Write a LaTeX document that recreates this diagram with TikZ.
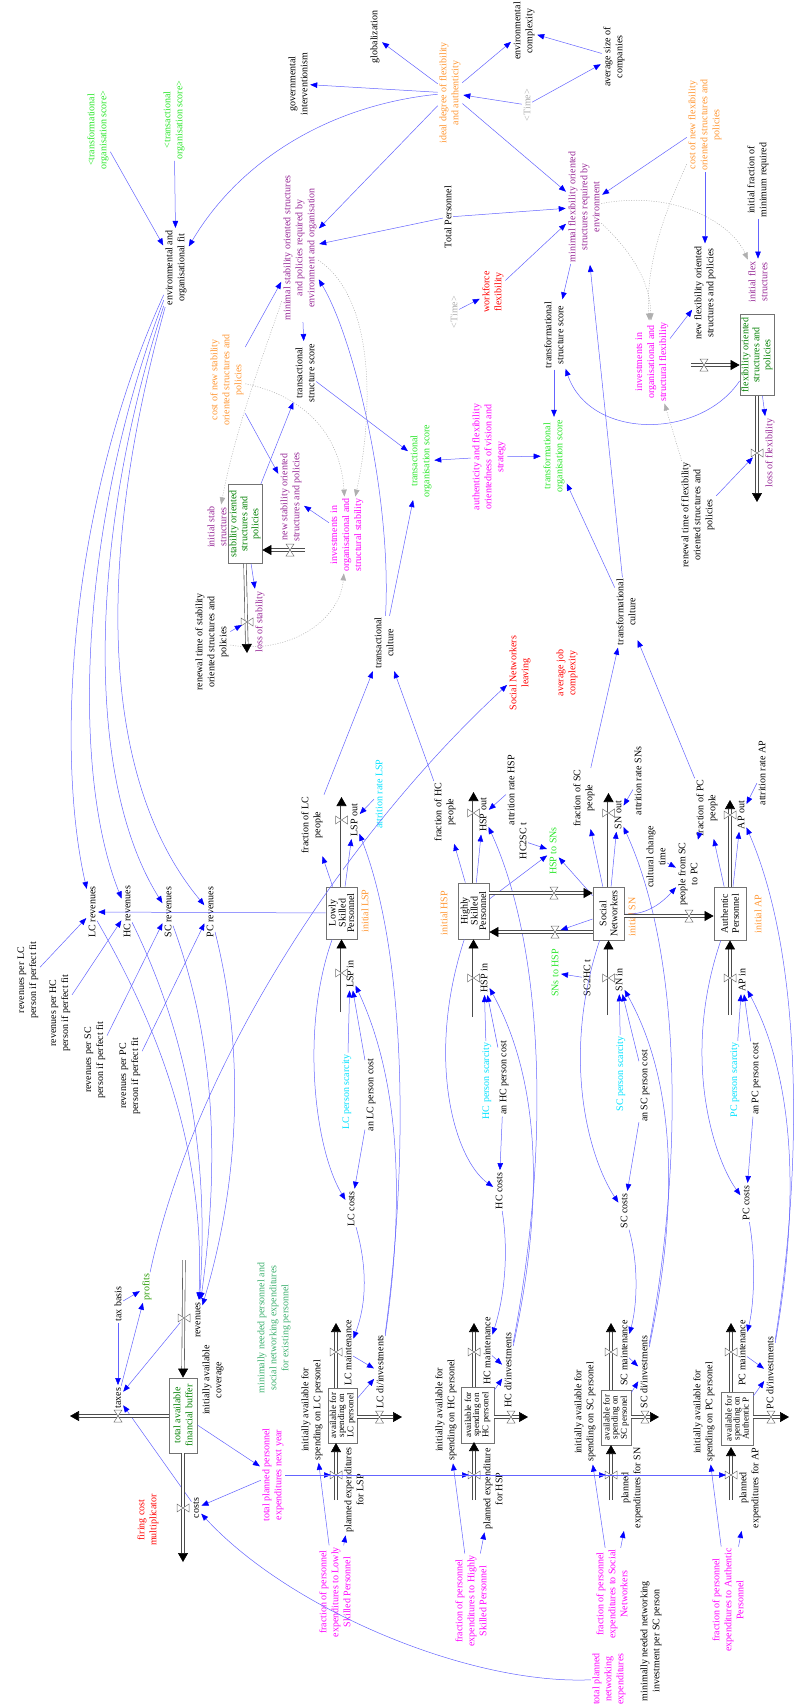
\documentclass[tikz,border=0pt]{standalone}
\usepackage{fontspec}
\setmainfont{Liberation Serif}
\usetikzlibrary{arrows.meta,calc}
\definecolor{linkblue}{RGB}{100,100,255}
\definecolor{tipblue}{RGB}{0,0,255}
\definecolor{vorange}{RGB}{255,150,50}
\definecolor{vpurple}{RGB}{150,40,150}
\definecolor{vmagenta}{RGB}{255,0,255}
\definecolor{vred}{RGB}{255,0,0}
\definecolor{vcyan}{RGB}{0,225,255}
\definecolor{vlime}{RGB}{40,230,40}
\definecolor{vgreen}{RGB}{0,128,0}
\definecolor{vsea}{RGB}{60,175,110}
\definecolor{vgray}{RGB}{175,175,175}
\tikzset{
  lbl/.style={rotate=90, align=center, inner sep=1.5pt, font=\fontsize{10}{12}\selectfont},
  stockbox/.style 2 args={rotate=90, align=center, draw=black!55, fill=white, line width=0.8pt,
    inner sep=0pt, minimum width=#1, minimum height=#2},
  link/.style={draw=linkblue, line width=0.5pt, shorten >=1pt,
    -{Triangle[length=7pt,width=5.5pt,color=tipblue]}},
  shadowlink/.style={draw=vgray, dash pattern=on 1pt off 1.5pt, line width=0.5pt,
    -{Triangle[length=7pt,width=5.5pt,color=vgray]}},
  pipe/.style={draw=black!70, double=white, double distance=2pt, line width=0.6pt,
    -{Triangle[length=9pt,width=10pt,color=black]}},
  valveh/.pic={\draw[black!55, fill=white, line width=0.5pt] (-4,-6) -- (4,6) -- (-4,6) -- (4,-6) -- cycle;},
  valvev/.pic={\draw[black!55, fill=white, line width=0.5pt] (-6,-4) -- (6,4) -- (6,-4) -- (-6,4) -- cycle;},
}
\newcommand{\flowpipe}[5]{%
  % from, to, valve name, valve position, valve orientation (h or v).
  \coordinate (#3) at #4;
  \draw[pipe] #1 -- #2;
  \pic at (#3) {valve#5};
}

\begin{document}
\begin{tikzpicture}[x=1pt,y=-1pt]
  \useasboundingbox (0,0) rectangle (803,1708);

  % environment
  \node[lbl] (glob) at (375,37) {globalization};
  \node[lbl] (govint) at (298,84) {governmental\\interventionism};
  \node[lbl,text=vorange] (ideal) at (450,93) {ideal degree of flexibility\\and authenticity};
  \node[lbl] (envcomp) at (524,31) {environmental\\complexity};
  \node[lbl] (avgsize) at (614,57) {average size of\\companies};
  \node[lbl,text=vgray] (time1) at (527,105) {<Time>};
  \node[lbl,text=vlime] (transfref) at (98,130) {<transformational\\organisation score>};
  \node[lbl,text=vlime] (transref) at (174,120) {<transactional\\organisation score>};
  \node[lbl] (envfit) at (176,268) {environmental and\\organisational fit};
  \node[lbl,text=vpurple] (minstab) at (300,248) {minimal stability oriented structures\\and policies required by\\environment and organisation};
  \node[lbl] (totpers) at (448,217) {Total Personnel};
  \node[lbl,text=vpurple] (minflex) at (584,207) {minimal flexibility oriented\\structures required by\\environment};
  \node[lbl,text=vorange] (costflex) at (705,125) {cost of new flexibility\\oriented structures and\\policies};
  \node[lbl] (initfrac) at (758,180) {initial fraction of\\minimum required};
  \node[lbl,text=vpurple] (initflex) at (758,282) {initial flex\\structures};
  \node[lbl,text=vred] (workflex) at (493,292) {workforce\\flexibility};
  \node[lbl,text=vgray] (time2) at (454,312) {<Time>};

  % structures
  \node[lbl,text=vorange] (costst) at (227,380) {cost of new stability\\oriented structures and\\policies};
  \node[lbl] (tstruct) at (305,373) {transactional\\structure score};
  \node[lbl] (tfstruct) at (554,335) {transformational\\structure score};
  \node[lbl,text=vlime] (tforg) at (554,456) {transformational\\organisation score};
  \node[lbl,text=vlime] (torg) at (421,461) {transactional\\organisation score};
  \node[lbl,text=vmagenta] (auth) at (489,457) {authenticity and flexibility\\orientedness of vision and\\strategy};
  \node[lbl,text=vmagenta] (invflex) at (652,362) {investments in\\organisational and\\structural flexibility};
  \node[lbl] (newflex) at (705,293) {new flexibility oriented\\structures and policies};
  \node[stockbox={81pt}{34pt},text=vgreen,font=\fontsize{10}{11}\selectfont] (flexstock) at (757,355) {flexibility oriented\\structures and\\policies};
  \node[lbl,text=vpurple] (lossflex) at (770,453) {loss of flexibility};
  \node[lbl] (renflex) at (698,515) {renewal time of flexibility\\oriented structures and\\policies};
  \node[stockbox={79pt}{34pt},text=vgreen,font=\fontsize{10}{11}\selectfont] (stabstock) at (245,524) {stability oriented\\structures and\\policies};
  \node[lbl,text=vpurple] (initstab) at (217,527) {initial stab\\structures};
  \node[lbl,text=vpurple] (newstab) at (291,497) {new stability oriented\\structures and policies};
  \node[lbl,text=vmagenta] (invstab) at (347,535) {investments in\\organisational and\\structural stability};
  \node[lbl,text=vpurple] (lossstab) at (260,622) {loss of stability};
  \node[lbl] (renstab) at (212,642) {renewal time of stability\\oriented structures and\\policies};
  \node[lbl] (tcult) at (384,643) {transactional\\culture};
  \node[lbl] (tfcult) at (626,612) {transformational\\culture};
  \node[lbl,text=vred] (snleave) at (520,673) {Social Networkers\\leaving};
  \node[lbl,text=vred] (avgjob) at (567,673) {average job\\complexity};

  % personnel
  \node[lbl] (fraclc) at (312,825) {fraction of LC\\people};
  \node[lbl] (lspoutl) at (354,820) {LSP out};
  \node[lbl,text=vcyan] (attlsp) at (379,794) {attrition rate LSP};
  \node[lbl] (frachc) at (445,812) {fraction of HC\\people};
  \node[lbl] (hspoutl) at (483,815) {HSP out};
  \node[lbl] (atthsp) at (511,790) {attrition rate HSP};
  \node[lbl] (hc2sc) at (523,841) {HC2SC t};
  \node[lbl,text=vlime] (hsp2snl) at (553,851) {HSP to SNs};
  \node[lbl] (fracsc) at (584,798) {fraction of SC\\people};
  \node[lbl] (snoutl) at (618,815) {SN out};
  \node[lbl] (attsn) at (638,781) {attrition rate SNs};
  \node[lbl] (cultch) at (656,857) {cultural change\\time};
  \node[lbl] (fracpc) at (707,808) {fraction of PC\\people};
  \node[lbl] (apoutl) at (741,815) {AP out};
  \node[lbl] (attap) at (762,773) {attrition rate AP};
  \node[lbl] (sc2pc) at (688,874) {people from SC\\to PC};
  \node[stockbox={52pt}{31pt},font=\fontsize{10}{8.5}\selectfont] (lsp) at (341.5,913) {Lowly\\Skilled\\Personnel};
  \node[stockbox={56pt}{31pt},font=\fontsize{10}{8.5}\selectfont] (hsp) at (473.5,911) {Highly\\Skilled\\Personnel};
  \node[stockbox={53pt}{31pt},font=\fontsize{10}{11}\selectfont] (sn) at (608.5,913.5) {Social\\Networkers};
  \node[stockbox={53pt}{32pt},font=\fontsize{10}{11}\selectfont] (ap) at (730,913.5) {Authentic\\Personnel};
  \node[lbl,text=vorange] (initlsp) at (365,911) {initial LSP};
  \node[lbl,text=vorange] (inithsp) at (444,913) {initial HSP};
  \node[lbl,text=vorange] (initsn) at (632,917) {initial SN};
  \node[lbl,text=vorange] (initap) at (758,914) {initial AP};
  \node[lbl,text=vlime] (sn2hspl) at (555,973) {SNs to HSP};
  \node[lbl] (sc2hc) at (587,978) {SC2HC t};
  \node[lbl] (lspinl) at (350,974) {LSP in};
  \node[lbl] (hspinl) at (484,978) {HSP in};
  \node[lbl] (sninl) at (619,980) {SN in};
  \node[lbl] (apinl) at (742,980) {AP in};
  \node[lbl,text=vcyan] (lcscar) at (347,1092) {LC person scarcity};
  \node[lbl] (lccost) at (371,1095) {an LC person cost};
  \node[lbl,text=vcyan] (hcscar) at (487,1081) {HC person scarcity};
  \node[lbl] (hccost) at (504,1078) {an HC person cost};
  \node[lbl,text=vcyan] (scscar) at (621,1074) {SC person scarcity};
  \node[lbl] (sccost) at (645,1086) {an SC person cost};
  \node[lbl,text=vcyan] (pcscar) at (735,1080) {PC person scarcity};
  \node[lbl] (pccost) at (756,1079) {an PC person cost};
  \node[lbl] (lccosts) at (351,1209) {LC costs};
  \node[lbl] (hccosts) at (499,1191) {HC costs};
  \node[lbl] (sccosts) at (624,1211) {SC costs};
  \node[lbl] (pccosts) at (746,1203) {PC costs};

  % revenues
  \node[lbl] (lcrev) at (92,912) {LC revenues};
  \node[lbl] (hcrev) at (127,912) {HC revenues};
  \node[lbl] (screv) at (168,912) {SC revenues};
  \node[lbl] (pcrev) at (210,912) {PC revenues};
  \node[lbl] (rplc) at (28,980) {revenues per LC\\person if perfect fit};
  \node[lbl] (rphc) at (60,1013) {revenues per HC\\person if perfect fit};
  \node[lbl] (rpsc) at (95,1060) {revenues per SC\\person if perfect fit};
  \node[lbl] (rppc) at (130,1076) {revenues per PC\\person if perfect fit};

  % finance
  \node[lbl] (taxbasis) at (118,1304) {tax basis};
  \node[lbl,text=vgreen!80!lime] (profits) at (147,1287) {profits};
  \node[lbl] (taxes) at (118,1398) {taxes};
  \node[lbl] (revflowl) at (198,1320) {revenues};
  \node[stockbox={75pt}{28pt},text=vgreen,font=\fontsize{10}{12}\selectfont] (buffer) at (183,1415.5) {total available\\financial buffer};
  \node[lbl] (initcov) at (213,1380) {initially available\\coverage};
  \node[lbl,text=vsea] (minneed) at (274,1328) {minimally needed personnel and\\social networking expenditures\\for existing personnel};
  \node[lbl] (costsl) at (196,1508) {costs};
  \node[lbl,text=vred] (firing) at (148,1520) {firing cost\\multiplicator};
  \node[lbl,text=vmagenta] (totplan) at (273,1475) {total planned personnel\\expenditures next year};

  % spending
  \node[lbl] (lcmaint) at (348,1353) {LC maintenance};
  \node[lbl] (lcdi) at (380,1372) {LC di/investments};
  \node[stockbox={55pt}{29pt},font=\fontsize{9}{8}\selectfont] (lcspend) at (342.5,1415.5) {available for\\spending on\\LC personel};
  \node[lbl] (lcinit) at (312,1410) {initially available for\\spending on LC personel};
  \node[lbl] (lcplan) at (354,1490) {planned expenditures\\for LSP};
  \node[lbl,text=vmagenta] (fraclsp) at (335,1592) {fraction of personnel\\expenditures to Lowly\\Skilled Personnel};
  \node[lbl] (hcmaint) at (487,1351) {HC maintenance};
  \node[lbl] (hcdi) at (508,1370) {HC di/investments};
  \node[stockbox={56pt}{33pt},font=\fontsize{9}{8}\selectfont] (hcspend) at (477.5,1415) {available for\\spending on\\HC personel};
  \node[lbl] (hcinit) at (446,1410) {initially available for\\spending on HC personel};
  \node[lbl] (hcplan) at (493,1489) {planned expenditure\\for HSP};
  \node[lbl,text=vmagenta] (frachsp) at (471,1601) {fraction of personnel\\expenditures to Highly\\Skilled Personnel};
  \node[lbl] (scmaint) at (624,1353) {SC maintenance};
  \node[lbl] (scdi) at (644,1372) {SC di/investments};
  \node[stockbox={55pt}{30pt},font=\fontsize{9}{8}\selectfont] (scspend) at (616,1417.5) {available for\\spending on\\SC personel};
  \node[lbl] (scinit) at (585,1412) {initially available for\\spending on SC personel};
  \node[lbl] (scplan) at (632,1488) {planned\\expenditures for SN};
  \node[lbl,text=vmagenta] (fracsn) at (612,1594) {fraction of personnel\\expenditures to Social\\Networkers};
  \node[lbl] (minnet) at (651,1641) {minimally needed networking\\investment per SC person};
  \node[lbl,text=vmagenta] (totnet) at (609,1679) {total planned\\networking\\expenditures};
  \node[lbl] (pcmaint) at (742,1353) {PC maintenance};
  \node[lbl] (pcdi) at (770,1373) {PC di/investments};
  \node[stockbox={53pt}{32pt},font=\fontsize{9}{8}\selectfont] (pcspend) at (737,1418.5) {available for\\spending on\\Authentic P};
  \node[lbl] (pcinit) at (704,1412) {initially available for\\spending on PC personel};
  \node[lbl] (pcplan) at (750,1488) {planned\\expenditures for AP};
  \node[lbl,text=vmagenta] (fracap) at (728,1600) {fraction of personnel\\expenditures to Authentic\\Personnel};

  % links: environment and structures
  \foreach \a/\b in {ideal/glob, ideal/govint, ideal/envcomp, avgsize/envcomp, time1/ideal,
    time1/avgsize, ideal/minstab, ideal/minflex, totpers/minstab, totpers/minflex,
    workflex/minflex, time2/workflex, costflex/minflex, costflex/newflex, initfrac/initflex,
    minflex/tfstruct, tfcult/minflex, invflex/newflex, flexstock/lossflex, tfstruct/tforg,
    auth/torg, auth/tforg, tfcult/tforg, tstruct/torg, tcult/torg, minstab/tstruct,
    costst/minstab, costst/newstab, stabstock/tstruct, invstab/newstab, stabstock/lossstab,
    transfref/envfit, transref/envfit}
    \draw[link] (\a) -- (\b);
  \draw[link] (ideal) .. controls (330,105) and (240,160) .. (envfit);
  \draw[link] (flexstock) .. controls (700,440) and (590,440) .. (tfstruct);
  \draw[link] (tcult) .. controls (392,500) and (355,340) .. (minstab);
  \draw[shadowlink] (minflex) .. controls (670,190) and (730,220) .. (initflex);
  \draw[shadowlink] (minflex) .. controls (630,250) and (650,280) .. (invflex);
  \draw[shadowlink] (costflex) .. controls (670,200) and (645,260) .. (invflex);
  \draw[shadowlink] (renflex) -- (invflex);
  \draw[shadowlink] (costst) .. controls (300,395) and (340,430) .. (invstab);
  \draw[shadowlink] (minstab) .. controls (378,300) and (372,420) .. (invstab);
  \draw[shadowlink] (minstab) .. controls (265,350) and (235,430) .. (initstab);
  \draw[shadowlink] (renstab) .. controls (290,655) and (340,620) .. (invstab);

  % links: revenues
  \foreach \r/\ca/\cb in {lcrev/{70,500}/{55,750}, hcrev/{80,520}/{70,770},
    screv/{88,540}/{85,780}, pcrev/{95,560}/{100,780}}
    \draw[link] (envfit) .. controls (\ca) and (\cb) .. (\r);
  \foreach \r/\ca/\cb in {lcrev/{160,1030}/{205,1150}, hcrev/{185,1030}/{210,1150},
    screv/{215,1040}/{220,1160}, pcrev/{245,1050}/{240,1180}}
    \draw[link] (\r) .. controls (\ca) and (\cb) .. (revflowl);
  \foreach \a/\b in {rplc/lcrev, rphc/hcrev, rpsc/screv, rppc/pcrev, lsp/lcrev}
    \draw[link] (\a) -- (\b);

  % links: personnel
  \foreach \a/\b in {lsp/fraclc, hsp/frachc, sn/fracsc, ap/fracpc,
    fraclc/tcult, frachc/tcult, fracsc/tfcult, fracpc/tfcult,
    attlsp/lspoutl, atthsp/hspoutl, attsn/snoutl, attap/apoutl,
    lsp/lspoutl, hsp/hspoutl, sn/snoutl, ap/apoutl,
    lcscar/lspinl, lccost/lspinl, hcscar/hspinl, hccost/hspinl,
    scscar/sninl, sccost/sninl, pcscar/apinl, pccost/apinl,
    lccost/lccosts, hccost/hccosts, sccost/sccosts, pccost/pccosts,
    lcmaint/lcdi, lcspend/lcdi, hcmaint/hcdi, hcspend/hcdi,
    scmaint/scdi, scspend/scdi, pcmaint/pcdi, pcspend/pcdi,
    hsp/hsp2snl, sn/hsp2snl, hc2sc/hsp2snl, sc2hc/sn2hspl, cultch/sc2pc, fracpc/sc2pc}
    \draw[link] (\a) -- (\b);
  \draw[link] (sn) .. controls (645,915) and (660,905) .. (sc2pc);
  \foreach \s/\c/\ca/\cb in {lsp/lccosts/{300,1030}/{315,1150}, hsp/hccosts/{425,1060}/{455,1160},
    sn/sccosts/{560,1060}/{590,1160}, ap/pccosts/{680,1060}/{715,1160}}
    \draw[link] (\s) .. controls (\ca) and (\cb) .. (\c);
  \foreach \c/\m/\ca/\cb in {lccosts/lcmaint/{368,1270}/{366,1305}, hccosts/hcmaint/{510,1260}/{502,1305},
    sccosts/scmaint/{640,1270}/{636,1310}, pccosts/pcmaint/{756,1260}/{754,1305}}
    \draw[link] (\c) .. controls (\ca) and (\cb) .. (\m);
  \foreach \d/\i/\o/\x in {lcdi/lspinl/lspoutl/400, hcdi/hspinl/hspoutl/540,
    scdi/sninl/snoutl/675, pcdi/apinl/apoutl/795} {
    \draw[link] (\d) .. controls (\x+5,1200) and (\x,1080) .. (\i);
    \draw[link] (\d) .. controls (\x+10,1150) and (\x+5,950) .. (\o);
  }

  % links: finance and spending
  \foreach \a/\b in {buffer/totplan, totplan/costsl, costsl/taxes, taxbasis/taxes,
    taxbasis/profits, taxes/profits,
    fraclsp/lcinit, fraclsp/lcplan, frachsp/hcinit, frachsp/hcplan,
    fracsn/scinit, fracsn/scplan, fracap/pcinit, fracap/pcplan}
    \draw[link] (\a) -- (\b);
  \draw[link] (profits) .. controls (195,1060) and (350,830) .. (snleave);
  \draw[link] (totnet) .. controls (470,1685) and (290,1610) .. (costsl);

  % flows
  \flowpipe{(691,365)}{($(flexstock.north)+(0,10)$)}{vnewflex}{(704,365)}{h}
  \flowpipe{(flexstock.west)}{(757,502)}{vlossflex}{(757,453)}{v}
  \flowpipe{(305,550)}{($(stabstock.south)+(0,26)$)}{vnewstab}{(290,550)}{h}
  \flowpipe{(stabstock.west)}{(247,653)}{vlossstab}{(247,622)}{v}
  \flowpipe{(lsp.east)}{(341.5,797)}{vlspout}{(341.5,820)}{v}
  \flowpipe{(hsp.east)}{(473.5,792)}{vhspout}{(473.5,813)}{v}
  \flowpipe{(sn.east)}{(608.5,793)}{vsnout}{(608.5,813)}{v}
  \flowpipe{(ap.east)}{(730,800)}{vapout}{(730,815)}{v}
  \flowpipe{(341.5,1012)}{(lsp.west)}{vlspin}{(341.5,973)}{v}
  \flowpipe{(473.5,1017)}{(hsp.west)}{vhspin}{(473.5,978)}{v}
  \flowpipe{(608.5,1015)}{(sn.west)}{vsnin}{(608.5,978)}{v}
  \flowpipe{(730,1015)}{(ap.west)}{vapin}{(730,978)}{v}
  \flowpipe{($(hsp.south)+(0,-18)$)}{($(sn.north)+(0,-20.5)$)}{vhsp2sn}{(554,893)}{h}
  \flowpipe{($(sn.north)+(0,18.5)$)}{($(hsp.south)+(0,21)$)}{vsn2hsp}{(555,932)}{h}
  \flowpipe{($(sn.south)+(0,2.5)$)}{($(ap.north)+(0,2.5)$)}{vsc2pc}{(689,916)}{h}
  \flowpipe{(184,1260)}{(buffer.east)}{vrev}{(184,1318)}{v}
  \flowpipe{($(buffer.north)+(0,0.5)$)}{(70,1416)}{vtax}{(118,1416)}{h}
  \flowpipe{(buffer.west)}{(183,1562)}{vcosts}{(183,1508)}{v}
  \foreach \s/\x/\top/\r/\e in {lc/336/1388/357/402, hc/474/1387/494/528,
    sc/611/1390/631/659, pc/731/1392/753/789} {
    \flowpipe{(\x,\top)}{(\x,1323)}{v\s maint}{(\x,1352)}{v}
    \flowpipe{(\r,1417)}{(\e,1417)}{v\s di}{({(\r+\e)/2},1417)}{h}
    \flowpipe{(\x,1500)}{(\x,\top+55)}{v\s plan}{(\x,1475)}{v}
  }
  \draw[link, shorten <=6pt] (vrev) -- (taxes);
  \draw[link, shorten >=6pt] (sn) -- (vsn2hsp);
  \draw[link, shorten >=6pt] (renflex) -- (vlossflex);
  \draw[link, shorten >=6pt] (renstab) -- (vlossstab);
  \foreach \s in {lc,hc,sc,pc}
    \draw[link, shorten >=5pt] (totplan) -- (v\s plan);
\end{tikzpicture}
\end{document}
